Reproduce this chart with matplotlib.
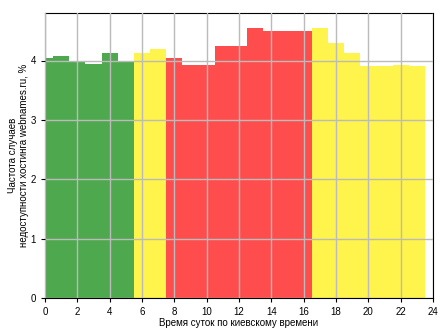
import matplotlib
matplotlib.use('Agg')
import matplotlib.pyplot as plt

plt.rcParams['font.family'] = ['Liberation Sans', 'DejaVu Sans']

hours = list(range(24))
values = [4.05, 4.08, 3.97, 3.94, 4.13, 4.00, 4.12, 4.20, 4.05, 3.92, 3.93, 4.24,
          4.25, 4.55, 4.49, 4.49, 4.49, 4.55, 4.30, 4.12, 3.90, 3.90, 3.92, 3.90]
zones = ['g'] * 6 + ['y'] * 2 + ['r'] * 9 + ['y'] * 7

palette = {'g': '#4ea84e', 'y': '#fff44b', 'r': '#ff4d4d'}

fig = plt.figure(figsize=(4.48, 3.36), dpi=100)
ax = fig.add_axes([45 / 448, 38 / 336, 388 / 448, 285 / 336])
ax.bar(hours, values, width=1.0, color=[palette[z] for z in zones], zorder=2)

ax.set_xlim(0, 24)
ax.set_ylim(0, 4.8)
ax.set_xticks(range(0, 25, 2))
ax.set_yticks(range(0, 5))
ax.grid(True, color='#bbbbbb', linewidth=1, zorder=3)
ax.set_axisbelow(False)
ax.tick_params(labelsize=7, length=3)
ax.set_xlabel('Время суток по киевскому времени', fontsize=7, labelpad=1)
ax.set_ylabel('Частота случаев\nнедоступности хостинга webnames.ru, %', fontsize=7, labelpad=1)

fig.savefig('out.png', dpi=100)
